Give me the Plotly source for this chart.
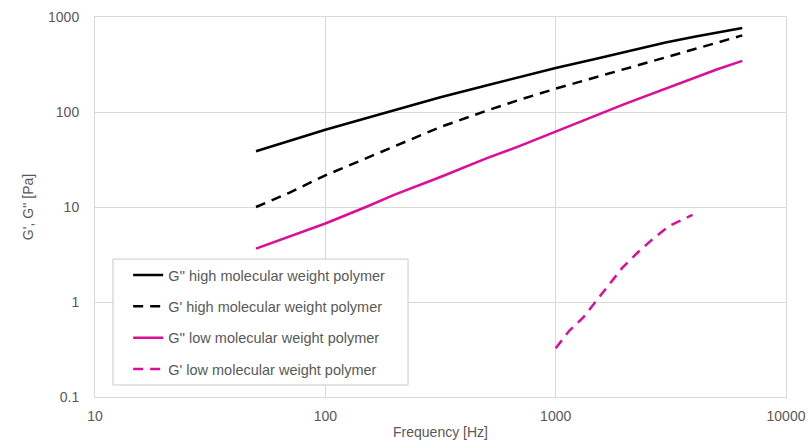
import plotly.graph_objects as go

# Frequency [Hz] and moduli [Pa]
freq_high = [50, 70, 100, 150, 200, 316, 500, 700, 1000, 1500, 2000, 3000, 4000, 5000, 6460]
g2_high = [38.6, 49.7, 65, 86, 104.5, 143, 190, 234, 290, 363, 426, 540, 620, 690, 766]
g1_high = [10, 14.2, 21.5, 32.5, 44, 69.5, 103, 135, 176, 232, 282, 375, 458, 535, 641]

freq_low = [50, 70, 100, 150, 200, 316, 500, 700, 1000, 1500, 2000, 3000, 4000, 5000, 6460]
g2_low = [3.65, 4.9, 6.7, 10, 13.5, 20.7, 32.5, 44, 62.7, 92, 122, 175, 228, 280, 345]

freq_low_g1 = [1000, 1148, 1315, 1493, 1706, 1950, 2265, 2630, 3105, 3927]
g1_low = [0.326, 0.5, 0.684, 1.02, 1.53, 2.30, 3.3, 4.57, 6.3, 8.24]

names = ["G'' high molecular weight polymer", "G' high molecular weight polymer",
         "G'' low molecular weight polymer", "G' low molecular weight polymer"]

BLACK = "#000000"
MAGENTA = "#DC0D98"
TXT = "#595959"
GRID = "#d9d9d9"

fig = go.Figure()
series = [
    (freq_high, g2_high, BLACK, "solid"),
    (freq_high, g1_high, BLACK, "10px,7px"),
    (freq_low, g2_low, MAGENTA, "solid"),
    (freq_low_g1, g1_low, MAGENTA, "10px,7px"),
]
for i, (x, y, c, d) in enumerate(series):
    fig.add_trace(go.Scatter(x=x, y=y, mode="lines", name=names[i],
                             legendgroup=f"g{i}",
                             line=dict(color=c, width=2.5, dash=d)))

fig.add_shape(type="rect", xref="paper", yref="paper",
              x0=0.026, x1=0.453, y0=0.0316, y1=0.363,
              line=dict(color="#c9c9c9", width=1), fillcolor="white", layer="above")

fig.update_layout(
    width=808, height=440,
    margin=dict(l=95, r=22, t=17, b=43, autoexpand=False),
    paper_bgcolor="white", plot_bgcolor="white",
    font=dict(family="Liberation Sans, Arial, sans-serif", size=14, color=TXT),
    showlegend=True,
    legend=dict(x=0.048, y=0.363, xanchor="left", yanchor="top",
                bgcolor="rgba(0,0,0,0)", borderwidth=0,
                font=dict(size=14.5, color=TXT), tracegroupgap=9.5),
    xaxis=dict(type="log", range=[1, 4], tickvals=[10, 100, 1000, 10000],
               ticktext=["10", "100", "1000", "10000"], automargin=False,
               showgrid=True, gridcolor=GRID, gridwidth=1,
               showline=True, linecolor=GRID, mirror=True, zeroline=False,
               ticks="", ticklabelstandoff=6,
               title=dict(text="Frequency [Hz]", standoff=4, font=dict(size=14, color=TXT))),
    yaxis=dict(type="log", range=[-1, 3], tickvals=[0.1, 1, 10, 100, 1000],
               ticktext=["0.1", "1", "10", "100", "1000"], automargin=False,
               showgrid=True, gridcolor=GRID, gridwidth=1,
               showline=True, linecolor=GRID, mirror=True, zeroline=False,
               ticks="", ticklabelstandoff=12,
               title=dict(text="G', G'' [Pa]", standoff=11, font=dict(size=14, color=TXT))),
)

fig.write_html("out.html", config={"displayModeBar": False},
               post_script="document.body.style.margin='0';document.body.style.padding='0';")
